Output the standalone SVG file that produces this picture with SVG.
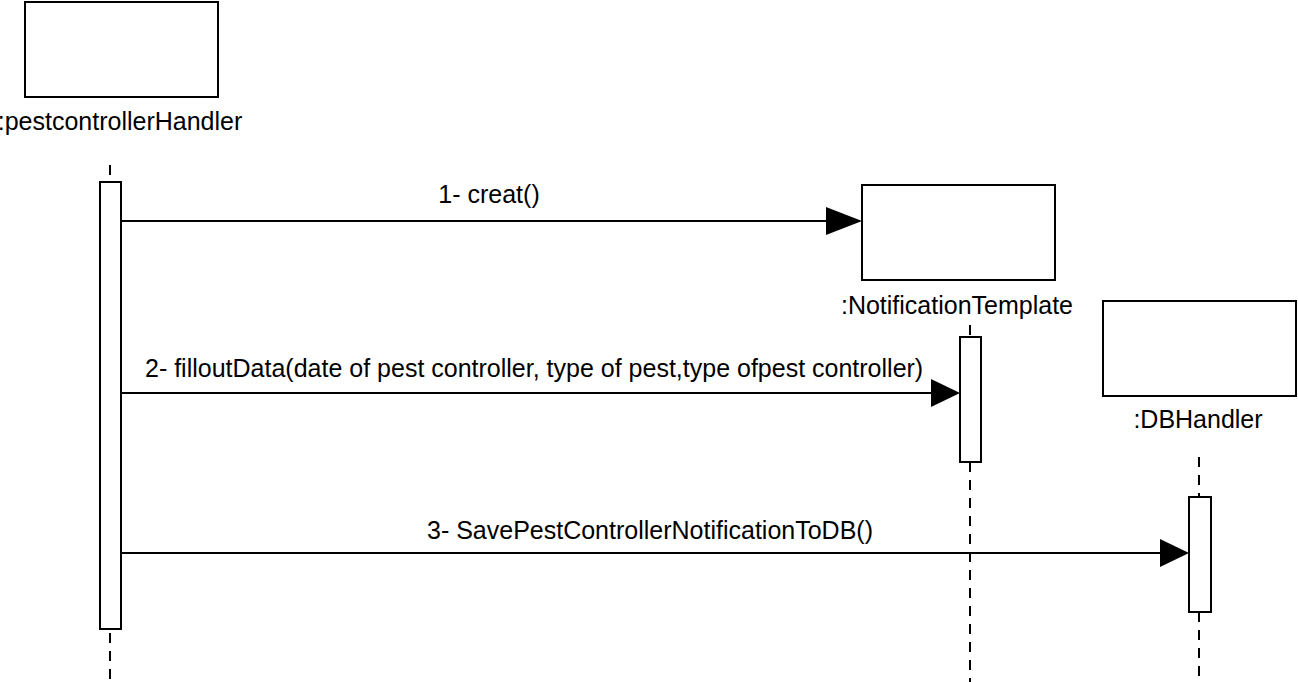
<svg xmlns="http://www.w3.org/2000/svg" width="1298" height="682" viewBox="0 0 1298 682">
<defs>
<style>
.box{fill:#fff;stroke:#000;stroke-width:2}
.act{fill:#fff;stroke:#000;stroke-width:2}
.life{stroke:#000;stroke-width:2;stroke-dasharray:10 8;fill:none}
.msg{stroke:#000;stroke-width:2;fill:none}
.head{fill:#000}
text{font-family:"Liberation Sans",Arial,sans-serif;font-size:25px;fill:#000}
</style>
</defs>
<rect width="1298" height="682" fill="#fff"/>
<g id="lifelines">
<line class="life" x1="110" y1="165" x2="110" y2="182"/>
<line class="life" x1="110" y1="629" x2="110" y2="682" stroke-dashoffset="-4"/>
<line class="life" x1="970" y1="325" x2="970" y2="337"/>
<line class="life" x1="970" y1="462" x2="970" y2="682"/>
<line class="life" x1="1199" y1="457" x2="1199" y2="497"/>
<line class="life" x1="1199" y1="612" x2="1199" y2="682"/>
</g>
<g id="pestcontrollerHandler">
<rect class="box" x="25" y="2" width="193" height="95"/>
<text x="120" y="130" text-anchor="middle">:pestcontrollerHandler</text>
<rect class="act" x="100" y="182" width="21" height="447"/>
</g>
<g id="NotificationTemplate">
<rect class="box" x="862" y="185" width="193" height="95"/>
<text x="957" y="314" text-anchor="middle">:NotificationTemplate</text>
<rect class="act" x="960" y="337" width="21" height="125"/>
</g>
<g id="DBHandler">
<rect class="box" x="1103" y="301" width="193" height="95"/>
<text x="1198" y="428" text-anchor="middle">:DBHandler</text>
<rect class="act" x="1189" y="497" width="22" height="115"/>
</g>
<g id="connectors">
<line class="msg" x1="121" y1="221" x2="830" y2="221"/>
<polygon class="head" points="862,221 826,207 826,235"/>
<text x="489" y="203" text-anchor="middle">1- creat()</text>
<line class="msg" x1="121" y1="393" x2="935" y2="393"/>
<polygon class="head" points="960,393 931,379 931,407"/>
<text x="145" y="377">2- filloutData(date of pest controller, type of pest,type ofpest controller)</text>
<line class="msg" x1="121" y1="553" x2="1165" y2="553"/>
<polygon class="head" points="1189,553 1160,539 1160,567"/>
<text x="650" y="539" text-anchor="middle">3- SavePestControllerNotificationToDB()</text>
</g>
</svg>
